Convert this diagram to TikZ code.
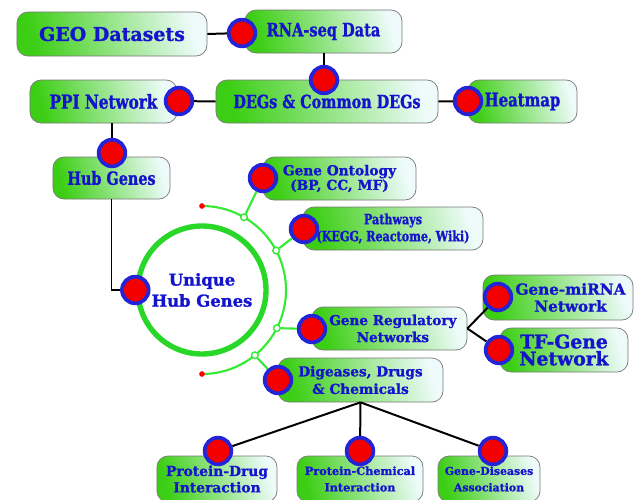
\documentclass[tikz,border=0pt]{standalone}
\usepackage{fontspec}
\setmainfont{Liberation Serif}
\newfontfamily\widefont[BoldFeatures={FakeBold=1.2}]{DejaVu Serif}
\newfontfamily\condfont[FakeStretch=0.88, BoldFeatures={FakeBold=1.2}]{DejaVu Serif Condensed}
\usepackage{tikz}
\usetikzlibrary{positioning}
\usetikzlibrary{calc}

\definecolor{boxgreen}{RGB}{60,206,20}
\definecolor{boxpale}{RGB}{238,251,250}
\definecolor{boxedge}{RGB}{120,120,120}
\definecolor{labelblue}{RGB}{20,20,205}
\definecolor{dotred}{RGB}{245,0,0}
\definecolor{dotblue}{RGB}{35,35,215}
\definecolor{ringgreen}{RGB}{40,215,40}
\definecolor{branchgreen}{RGB}{50,235,50}

\begin{document}
\begin{tikzpicture}[x=0.03cm, y=-0.03cm,
  box/.style={rounded corners=0.33cm, draw=boxedge, line width=0.6pt,
    left color=boxgreen, middle color=boxgreen!16!boxpale, right color=boxpale, shading angle=105,
    minimum height=1.29cm, inner sep=1pt, align=center, text=labelblue},
  condtext/.style 2 args={font=\condfont\bfseries\fontsize{#1}{#2}\selectfont},
  widetext/.style 2 args={font=\widefont\bfseries\fontsize{#1}{#2}\selectfont},
  knob/.style={circle, fill=dotred, draw=dotblue, line width=3.2pt, minimum size=0.8cm, inner sep=0pt},
  link/.style={line width=1.7pt, black},
  branch/.style={line width=1.8pt, branchgreen},
  joint/.style={circle, fill=white, draw=branchgreen, line width=1.2pt, minimum size=0.2cm, inner sep=0pt},
  tip/.style={circle, fill=red, inner sep=0pt, minimum size=0.17cm}]
\fill[white] (0,0) rectangle (638,500);
\useasboundingbox (0,0) rectangle (638,500);

\node[box, widetext={16.2}{18}, minimum width=5.7cm, minimum height=1.32cm] (geo) at (112,34) {GEO Datasets};
\node[box, condtext={15.7}{18}, minimum width=4.71cm] (rna) at (323.5,31.5) {RNA-seq Data};
\node[box, condtext={15.5}{18}, minimum width=6.66cm] (degs) at (327,101.5) {DEGs \& Common DEGs};
\node[box, condtext={16.4}{18}, minimum width=4.41cm] (ppi) at (103.5,101.5) {PPI Network};
\node[box, condtext={16}{18}, minimum width=3.27cm] (heat) at (522.5,101.5) {Heatmap};
\node[box, condtext={15.5}{18}, minimum width=3.51cm, minimum height=1.26cm] (hub) at (111.5,178) {Hub Genes};

\node[box, widetext={11.7}{12.5}, minimum width=4.59cm] (go) at (339.5,178.5) {Gene Ontology\\(BP, CC, MF)};
\node[box, condtext={12}{14.5}, minimum width=5.4cm] (path) at (393,228.5) {Pathways\\(KEGG, Reactome, Wiki)};
\node[box, widetext={11.6}{14.5}, minimum width=4.65cm] (grn) at (389.5,328.5)
  {\hspace*{0.2cm}Gene Regulatory\\\hspace*{0.2cm}Networks};
\node[box, widetext={11.7}{15}, minimum width=4.95cm, minimum height=1.32cm] (dis) at (360.5,380) {Digeases, Drugs\\\& Chemicals};
\node[box, widetext={13}{14.5}, minimum width=4.5cm, minimum height=1.35cm] (mirna) at (558,297.5)
  {\hspace*{0.75cm}Gene-miRNA\\\hspace*{0.75cm}Network};
\node[box, widetext={16}{14.5}, minimum width=3.84cm, minimum height=1.32cm] (tf) at (564,350) {TF-Gene\\Network};

\node[box, widetext={11.8}{14}, minimum width=3.6cm, minimum height=1.38cm] (pdrug) at (217,479) {Protein-Drug\\Interaction};
\node[box, widetext={9.6}{14}, minimum width=3.78cm, minimum height=1.38cm] (pchem) at (360,479) {Protein-Chemical\\Interaction};
\node[box, widetext={9.3}{14}, minimum width=3.06cm, minimum height=1.38cm] (gdis) at (489,479) {Gene-Diseases\\Association};

\node[circle, draw=ringgreen, line width=4.6pt, minimum size=3.84cm, fill=white, text=labelblue,
  align=center, widetext={14}{18}] (uhg) at (202,290) {Unique\\Hub Genes};

% green arc round the unique hub genes
\draw[branch] ($(uhg.center)+(90:2.52cm)$) arc[start angle=90, end angle=-90, radius=2.52cm];
\node[tip] (tiptop) at ($(uhg.center)+(90:2.52cm)$) {};
\node[tip] (tipbot) at ($(uhg.center)+(-90:2.52cm)$) {};
\node[joint] (j1) at ($(uhg.center)+(60:2.52cm)$) {};
\node[joint] (j2) at ($(uhg.center)+(28:2.52cm)$) {};
\node[joint] (j3) at ($(uhg.center)+(-27:2.52cm)$) {};
\node[joint] (j4) at ($(uhg.center)+(-51:2.52cm)$) {};

\node[knob] (rnaknob) at (242,33) {};
\node[knob] (degsknob) at (324,80) {};
\node[knob] (ppiknob) at (179,101) {};
\node[knob] (heatknob) at (468,101) {};
\node[knob] (hubknob) at (112,153) {};
\node[knob] (uhgknob) at (uhg.west) {};
\node[knob] (goknob) at (263,178) {};
\node[knob] (pathknob) at (304,229) {};
\node[knob] (grnknob) at (312,329) {};
\node[knob] (disknob) at (278,380) {};
\node[knob] (mirnaknob) at (498,297) {};
\node[knob] (tfknob) at (499,350) {};
\node[knob] (pdrugknob) at (218,451) {};
\node[knob] (pchemknob) at (360,451) {};
\node[knob] (gdisknob) at (493,451) {};

\draw[branch] (j1) -- (goknob);
\draw[branch] (j2) -- (pathknob);
\draw[branch] (j3) -- (grnknob);
\draw[branch] (j4) -- (disknob);

\draw[link] (geo.east) -- (rnaknob);
\draw[link] (rna.south -| degsknob) -- (degsknob);
\draw[link] (ppiknob) -- (degs.west);
\draw[link] (degs.east) -- (heatknob);
\draw[link] (hubknob |- ppi.south) -- (hubknob);
\draw[link] (hub.south) |- (uhgknob);
\draw[link] (grn.east) -- (mirnaknob);
\draw[link] (grn.east) -- (tfknob);
\draw[link] (dis.south) -- (pdrugknob);
\draw[link] (dis.south) -- (pchemknob);
\draw[link] (dis.south) -- (gdisknob);
\end{tikzpicture}
\end{document}
